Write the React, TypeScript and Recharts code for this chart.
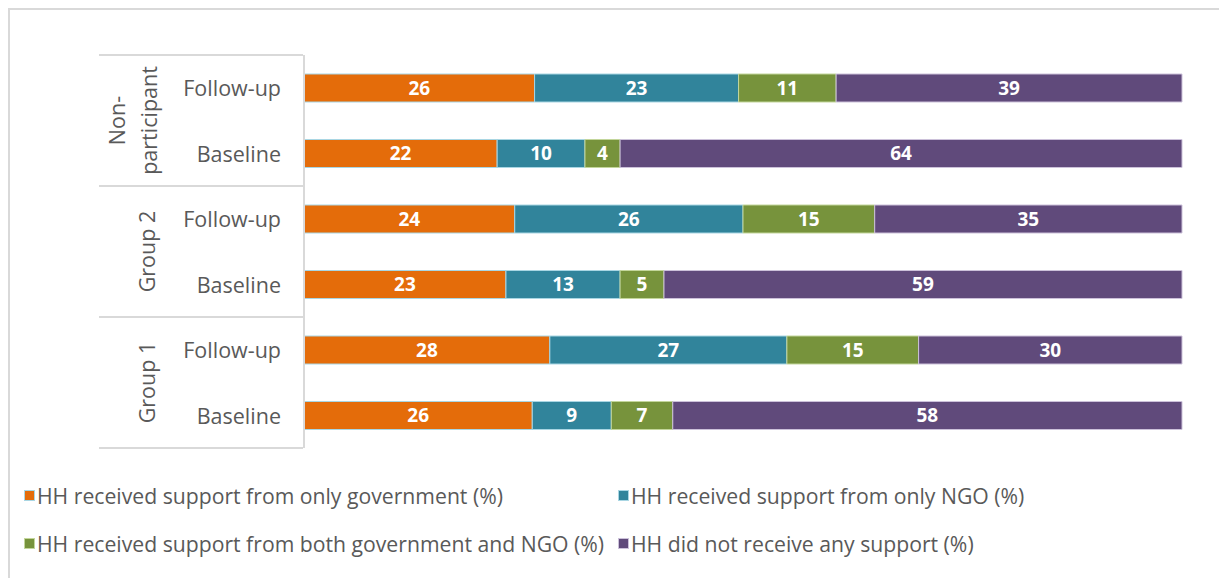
import React from 'react';
import { BarChart, Bar, XAxis, YAxis, LabelList, Legend } from 'recharts';

const subLabels = ['Follow-up', 'Baseline', 'Follow-up', 'Baseline', 'Follow-up', 'Baseline'];
const groupLabels = [['Non-', 'participant'], ['Group 2'], ['Group 1']];
const onlyGov = [26, 22, 24, 23, 28, 26];
const onlyNgo = [23, 10, 26, 13, 27, 9];
const both = [11, 4, 15, 5, 15, 7];
const none = [39, 64, 35, 59, 30, 58];

const seriesNames = [
  'HH received support from only government (%)',
  'HH received support from only NGO (%)',
  'HH received support from both government and NGO (%)',
  'HH did not receive any support (%)',
];
const seriesKeys = ['gov', 'ngo', 'both', 'none'];
const seriesColors = ['#E46C0A', '#31849B', '#77933C', '#604A7B'];
const seriesStrokes = ['#A9D6E3', '#A9D6E3', '#C3D69B', '#CCC1DA'];

const data = subLabels.map((s, i) => ({
  row: `r${i}`,
  sub: s,
  gov: onlyGov[i],
  ngo: onlyNgo[i],
  both: both[i],
  none: none[i],
}));

const W = 1217;
const H = 568;
const MARGIN = { top: 45, right: 45, bottom: 3, left: 0 };
const LEGEND_H = 127;
const PLOT_H = H - MARGIN.top - MARGIN.bottom - LEGEND_H;
const BAND = PLOT_H / data.length;
const AXIS_W = 294;
const FONT = '"Open Sans", Lato, sans-serif';
const TEXT = '#595959';
const GRID = '#D9D9D9';
const FS = 21.5;
const LEG_FS = 21.2;

const RowTick = (props: any) => {
  const { y, payload } = props;
  const idx: number = payload.index;
  const label = data[idx]?.sub ?? '';
  const els: React.ReactNode[] = [];
  els.push(
    <text key="t" x={271} y={y} textAnchor="end" dominantBaseline="central" fill={TEXT} fontSize={FS} fontFamily={FONT}>
      {label}
    </text>
  );
  if (idx % 2 === 0) {
    const top = y - BAND / 2;
    els.push(<line key="l" x1={89} x2={293} y1={top} y2={top} stroke={GRID} strokeWidth={2} />);
    const g = groupLabels[idx / 2];
    const cy = top + BAND;
    const xs = g.length === 2 ? [106, 138] : [136];
    g.forEach((line, k) => {
      els.push(
        <text
          key={`g${k}`}
          x={xs[k]}
          y={cy}
          transform={`rotate(-90 ${xs[k]} ${cy})`}
          textAnchor="middle"
          dominantBaseline="central"
          fill={TEXT}
          fontSize={FS}
          fontFamily={FONT}
        >
          {line}
        </text>
      );
    });
  }
  if (idx === data.length - 1) {
    const bottom = y + BAND / 2;
    els.push(<line key="b" x1={89} x2={293} y1={bottom} y2={bottom} stroke={GRID} strokeWidth={2} />);
  }
  return <g>{els}</g>;
};

const LegendContent = () => {
  const pos = [
    { left: 14, top: 47 },
    { left: 608, top: 47 },
    { left: 14, top: 95 },
    { left: 608, top: 95 },
  ];
  return (
    <div style={{ position: 'relative', width: W, height: LEGEND_H, fontFamily: FONT }}>
      {seriesNames.map((n, i) => (
        <div
          key={n}
          style={{
            position: 'absolute',
            left: pos[i].left,
            top: pos[i].top - 15,
            height: 30,
            display: 'flex',
            alignItems: 'center',
            whiteSpace: 'nowrap',
            color: TEXT,
            fontSize: LEG_FS,
          }}
        >
          <span
            style={{
              display: 'inline-block',
              width: 9,
              height: 9,
              background: seriesColors[i],
              border: `1px solid ${seriesStrokes[i]}`,
              marginRight: 2,
            }}
          />
          {n}
        </div>
      ))}
    </div>
  );
};

export default function App() {
  return (
    <div
      style={{
        width: 1219,
        height: 570,
        borderTop: `2px solid ${GRID}`,
        borderLeft: `2px solid ${GRID}`,
        boxSizing: 'border-box',
        overflow: 'hidden',
        background: '#fff',
      }}
    >
      <BarChart
        width={W}
        height={H}
        data={data}
        layout="vertical"
        stackOffset="expand"
        margin={MARGIN}
        barSize={28}
      >
        <XAxis type="number" hide domain={[0, 1]} />
        <YAxis
          type="category"
          dataKey="row"
          width={AXIS_W}
          axisLine={{ stroke: GRID, strokeWidth: 2 }}
          tickLine={false}
          tick={<RowTick />}
          interval={0}
        />
        <Legend verticalAlign="bottom" align="left" height={LEGEND_H} wrapperStyle={{ left: 0, bottom: MARGIN.bottom, width: W }} content={<LegendContent />} />
        {seriesKeys.map((k, i) => (
          <Bar
            key={k}
            dataKey={k}
            name={seriesNames[i]}
            stackId="a"
            fill={seriesColors[i]}
            stroke={seriesStrokes[i]}
            strokeWidth={1}
            isAnimationActive={false}
          >
            <LabelList dataKey={k} position="center" fill="#FFFFFF" fontSize={19} fontWeight="bold" fontFamily={FONT} />
          </Bar>
        ))}
      </BarChart>
    </div>
  );
}
